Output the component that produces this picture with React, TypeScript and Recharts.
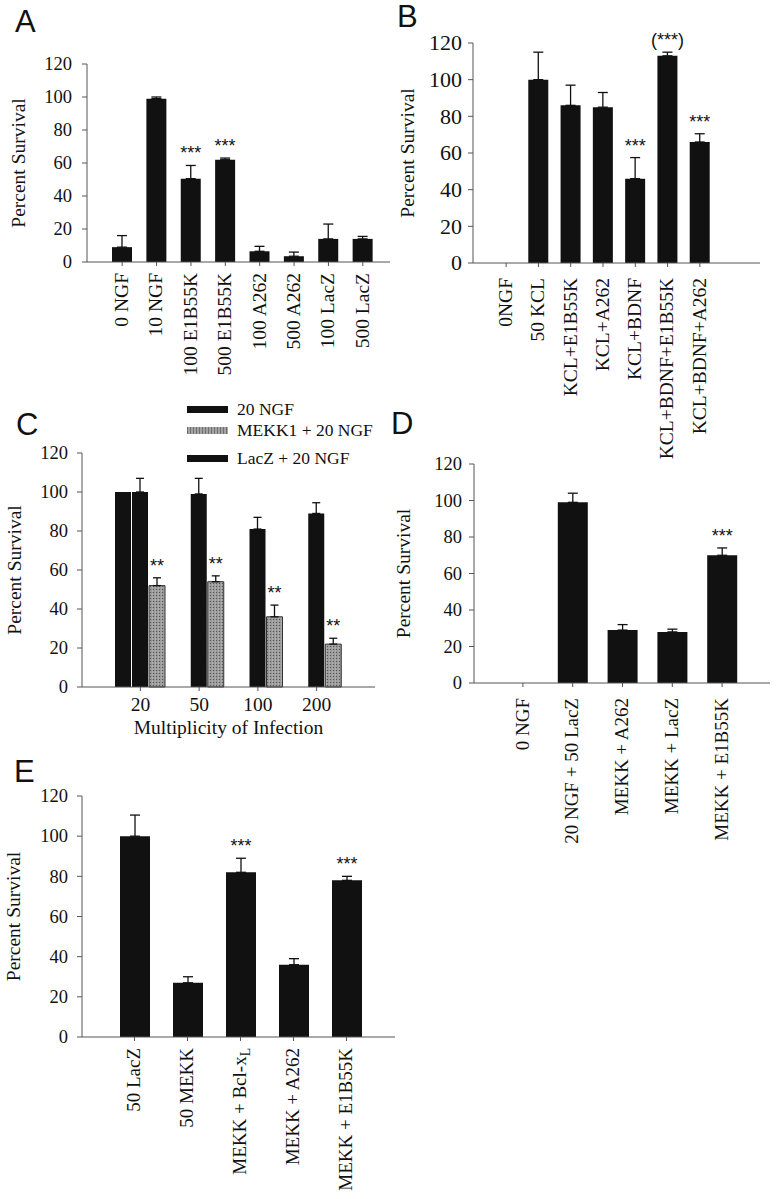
import React from 'react';
import { BarChart, Bar, XAxis, YAxis, ErrorBar, LabelList, Legend } from 'recharts';

const SERIF = '"Liberation Serif", "Times New Roman", serif';
const SANS = '"Liberation Sans", Arial, sans-serif';
const INK = '#111';
const AXIS = '#555';

const yTicks = [0, 20, 40, 60, 80, 100, 120];

// A
const aLabels = ['0 NGF', '10 NGF', '100 E1B55K', '500 E1B55K', '100 A262', '500 A262', '100 LacZ', '500 LacZ'];
const aValues = [9, 99, 50.5, 62, 6.5, 3.5, 14, 14];
const aErrors = [7, 1, 8, 1, 3, 2.5, 9, 1.5];
const aStars = ['', '', '***', '***', '', '', '', ''];

// B
const bLabels = ['0NGF', '50 KCL', 'KCL+E1B55K', 'KCL+A262', 'KCL+BDNF', 'KCL+BDNF+E1B55K', 'KCL+BDNF+A262'];
const bValues = [0, 100, 86, 85, 46, 113, 66];
const bErrors = [11, 15, 11, 8, 11.5, 2, 4.5];
const bStars = ['', '', '', '', '***', '(***)', '***'];

// C
const cMoi = ['20', '50', '100', '200'];
const cNgf = [100, null, null, null];
const cLacz = [100, 99, 81, 89];
const cLaczErr = [7, 8, 6, 5.5];
const cMekk = [52, 54, 36, 22];
const cMekkErr = [4, 3, 6, 3];
const cMekkStars = ['**', '**', '**', '**'];
const cSeries = [
  { key: 'ngf', name: '20 NGF' },
  { key: 'mekk', name: 'MEKK1 + 20 NGF' },
  { key: 'lacz', name: 'LacZ + 20 NGF' },
];

// D
const dLabels = ['0 NGF', '20 NGF + 50 LacZ', 'MEKK + A262', 'MEKK + LacZ', 'MEKK + E1B55K'];
const dValues = [0, 99, 29, 28, 70];
const dErrors = [0, 5, 3, 1.5, 4];
const dStars = ['', '', '', '', '***'];

// E
const eLabels = ['50 LacZ', '50 MEKK', 'MEKK + Bcl-xL', 'MEKK + A262', 'MEKK + E1B55K'];
const eValues = [100, 27, 82, 36, 78];
const eErrors = [10.5, 3, 7, 3, 2];
const eStars = ['', '', '***', '', '***'];

const subscriptLast = new Set(['MEKK + Bcl-xL']);

const makeRows = (labels: string[], values: number[], errors: number[], stars: string[]) =>
  labels.map((name, i) => ({
    idx: i,
    name,
    value: values[i],
    err: errors[i] ? [0, errors[i]] : null,
    star: stars[i],
  }));

const rowsA = makeRows(aLabels, aValues, aErrors, aStars);
const rowsB = makeRows(bLabels, bValues, bErrors, bStars);
const rowsD = makeRows(dLabels, dValues, dErrors, dStars);
const rowsE = makeRows(eLabels, eValues, eErrors, eStars);

const cRows = cMoi.map((name, i) => ({
  idx: i,
  name,
  ngf: cNgf[i],
  lacz: cLacz[i],
  laczErr: [0, cLaczErr[i]],
  mekk: cMekk[i],
  mekkErr: [0, cMekkErr[i]],
  star: cMekkStars[i],
}));

// stars sit just above the error-bar cap
const starLabel = (rows: any[], valueKey: string, errKey: string) => (props: any) => {
  const vb = props.viewBox || props;
  const row = rows[Number(props.value)];
  if (!row || !row.star) return null;
  const val = row[valueKey];
  const h = Math.abs(vb.height);
  const top = Math.min(vb.y, vb.y + vb.height);
  const ppu = h / val;
  const err = row[errKey] ? row[errKey][1] : 0;
  const capY = top - err * ppu;
  return (
    <text x={vb.x + vb.width / 2} y={capY - 6} textAnchor="middle" fontSize={18} fontFamily={SANS} fill={INK}>
      {row.star}
    </text>
  );
};

const RotTick = (props: any) => {
  const { x, y, payload, fontSize } = props;
  const text = String(payload.value);
  const sub = subscriptLast.has(text);
  return (
    <text
      x={x}
      y={y}
      transform={`rotate(-90 ${x} ${y})`}
      textAnchor="end"
      dy="0.3em"
      fontSize={fontSize}
      fontFamily={SERIF}
      fill={INK}
    >
      {sub ? (
        <>
          {text.slice(0, -1)}
          <tspan dy="0.28em" fontSize={fontSize * 0.72}>{text.slice(-1)}</tspan>
        </>
      ) : (
        text
      )}
    </text>
  );
};

const YTick = (props: any) => {
  const { x, y, payload, fontSize } = props;
  return (
    <text x={x} y={y} dy="0.34em" textAnchor="end" fontSize={fontSize} fontFamily={SERIF} fill={INK}>
      {payload.value}
    </text>
  );
};

const XTick = (props: any) => {
  const { x, y, payload } = props;
  return (
    <text x={x} y={y} dy="0.7em" textAnchor="middle" fontSize={19.5} fontFamily={SERIF} fill={INK}>
      {payload.value}
    </text>
  );
};

const yTitle = (cx: number) => (props: any) => {
  const vb = props.viewBox;
  const x = vb.x + cx;
  const y = vb.y + vb.height / 2;
  return (
    <text x={x} y={y} transform={`rotate(-90 ${x} ${y})`} dy="0.33em" textAnchor="middle" fontSize={19.5} fontFamily={SERIF} fill={INK}>
      Percent Survival
    </text>
  );
};

type Layout = {
  left: number; top: number; width: number; height: number;
  plotTop: number; plotRight: number; yWidth: number; xHeight: number;
  padLeft: number; padRight: number; barSize: number;
  yTickMargin: number; xTickMargin: number; titleX: number;
  yFont: number; xFont: number;
};

function SurvivalPanel({ rows, L }: { rows: any[]; L: Layout }) {
  return (
    <div style={{ position: 'absolute', left: L.left, top: L.top }}>
      <BarChart
        width={L.width}
        height={L.height}
        data={rows}
        margin={{ top: L.plotTop, right: L.plotRight, bottom: 0, left: 0 }}
        barSize={L.barSize}
      >
        <XAxis
          dataKey="name"
          interval={0}
          height={L.xHeight}
          padding={{ left: L.padLeft, right: L.padRight }}
          axisLine={{ stroke: AXIS }}
          tickLine={{ stroke: AXIS }}
          tickSize={4}
          tickMargin={L.xTickMargin}
          tick={(p: any) => <RotTick {...p} fontSize={L.xFont} />}
        />
        <YAxis
          domain={[0, 120]}
          ticks={yTicks}
          interval={0}
          width={L.yWidth}
          axisLine={{ stroke: AXIS }}
          tickLine={{ stroke: AXIS }}
          tickSize={5}
          tickMargin={L.yTickMargin}
          tick={(p: any) => <YTick {...p} fontSize={L.yFont} />}
          label={yTitle(L.titleX)}
        />
        <Bar dataKey="value" fill={INK} isAnimationActive={false}>
          <ErrorBar dataKey="err" width={5} stroke={INK} strokeWidth={1.3} direction="y" />
          <LabelList dataKey="idx" content={starLabel(rows, 'value', 'err')} />
        </Bar>
      </BarChart>
    </div>
  );
}

const layoutA: Layout = {
  left: 0, top: 0, width: 400, height: 400, plotTop: 64, plotRight: 10, yWidth: 87, xHeight: 138,
  padLeft: 18, padRight: 10, barSize: 20, yTickMargin: 10, xTickMargin: 7, titleX: 19, yFont: 18.5, xFont: 19.5,
};
const layoutB: Layout = {
  left: 390, top: 0, width: 389, height: 475, plotTop: 43, plotRight: 19, yWidth: 83, xHeight: 212,
  padLeft: 17, padRight: 44, barSize: 20, yTickMargin: 6, xTickMargin: 11, titleX: 18, yFont: 22, xFont: 19.5,
};
const layoutD: Layout = {
  left: 390, top: 400, width: 389, height: 470, plotTop: 64, plotRight: 9, yWidth: 84, xHeight: 187,
  padLeft: 24, padRight: 23, barSize: 30, yTickMargin: 7, xTickMargin: 11, titleX: 13.5, yFont: 18.5, xFont: 19,
};
const layoutE: Layout = {
  left: 0, top: 760, width: 400, height: 439, plotTop: 36, plotRight: 5, yWidth: 82, xHeight: 162,
  padLeft: 26, padRight: 22, barSize: 30, yTickMargin: 9, xTickMargin: 7, titleX: 14, yFont: 18.5, xFont: 19,
};

const mekkSwatch = 'repeating-linear-gradient(90deg, #6f6f6f 0 1px, #a3a3a3 1px 3px)';
const legendRowY = [9, 30, 58];

const CLegend = () => (
  <div style={{ position: 'relative', width: 190, height: 70, fontFamily: SERIF, fontSize: 17.5, color: INK }}>
    {cSeries.map((s, i) => (
      <div
        key={s.key}
        style={{ position: 'absolute', left: 0, top: legendRowY[i] - 12, height: 24, display: 'flex', alignItems: 'center', whiteSpace: 'nowrap' }}
      >
        <span
          style={{ display: 'inline-block', width: 41, height: 7, marginRight: 9, background: s.key === 'mekk' ? mekkSwatch : INK }}
        />
        <span>{s.name}</span>
      </div>
    ))}
  </div>
);

const cXTitle = (props: any) => {
  const vb = props.viewBox;
  return (
    <text x={vb.x + vb.width / 2} y={vb.y + vb.height - 6} textAnchor="middle" fontSize={19.5} fontFamily={SERIF} fill={INK}>
      Multiplicity of Infection
    </text>
  );
};

function PanelC() {
  return (
    <div style={{ position: 'absolute', left: 0, top: 400 }}>
      <BarChart width={390} height={340} data={cRows} margin={{ top: 53, right: 15, bottom: 0, left: 0 }} barSize={16} barGap={1}>
        <defs>
          <pattern id="mekkFill" width="3" height="3" patternUnits="userSpaceOnUse">
            <rect width="3" height="3" fill="#9a9a9a" />
            <rect width="1" height="1" fill="#555" />
            <rect x="2" y="1.5" width="1" height="1" fill="#c4c4c4" />
          </pattern>
        </defs>
        <XAxis
          dataKey="name"
          interval={0}
          height={53}
          padding={{ left: 29, right: 29 }}
          axisLine={{ stroke: AXIS }}
          tickLine={{ stroke: AXIS }}
          tickSize={4}
          tickMargin={6}
          tick={(p: any) => <XTick {...p} />}
          label={cXTitle}
        />
        <YAxis
          domain={[0, 120]}
          ticks={yTicks}
          interval={0}
          width={82}
          axisLine={{ stroke: AXIS }}
          tickLine={{ stroke: AXIS }}
          tickSize={5}
          tickMargin={9}
          tick={(p: any) => <YTick {...p} fontSize={18.5} />}
          label={yTitle(15)}
        />
        <Legend
          layout="horizontal"
          verticalAlign="middle"
          align="center"
          content={() => <CLegend />}
          wrapperStyle={{ left: 187, top: 0, width: 190, height: 70 }}
        />
        <Bar dataKey="ngf" name="20 NGF" fill={INK} isAnimationActive={false} />
        <Bar dataKey="lacz" name="LacZ + 20 NGF" fill={INK} isAnimationActive={false}>
          <ErrorBar dataKey="laczErr" width={4} stroke={INK} strokeWidth={1.3} direction="y" />
        </Bar>
        <Bar dataKey="mekk" name="MEKK1 + 20 NGF" fill="url(#mekkFill)" stroke="#333" strokeWidth={1} isAnimationActive={false}>
          <ErrorBar dataKey="mekkErr" width={4} stroke={INK} strokeWidth={1.3} direction="y" />
          <LabelList dataKey="idx" content={starLabel(cRows, 'mekk', 'mekkErr')} />
        </Bar>
      </BarChart>
    </div>
  );
}

const letterStyle = (left: number, top: number): React.CSSProperties => ({
  position: 'absolute',
  left,
  top,
  fontFamily: SANS,
  fontSize: 31,
  lineHeight: 1,
  color: INK,
});

export default function App() {
  return (
    <div style={{ position: 'absolute', left: 0, top: 0, width: 779, height: 1199, background: '#fff', overflow: 'hidden' }}>
      <SurvivalPanel rows={rowsA} L={layoutA} />
      <SurvivalPanel rows={rowsB} L={layoutB} />
      <PanelC />
      <SurvivalPanel rows={rowsD} L={layoutD} />
      <SurvivalPanel rows={rowsE} L={layoutE} />
      <div style={letterStyle(15, 6)}>A</div>
      <div style={letterStyle(397, 1)}>B</div>
      <div style={letterStyle(16, 409)}>C</div>
      <div style={letterStyle(391, 408)}>D</div>
      <div style={letterStyle(14, 756)}>E</div>
    </div>
  );
}
